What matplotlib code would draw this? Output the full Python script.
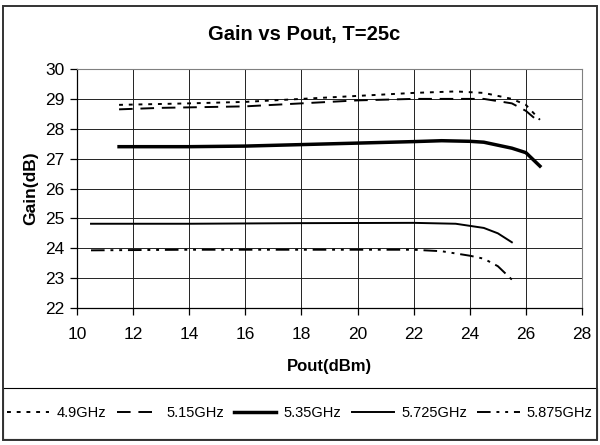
import matplotlib
matplotlib.use("Agg")
from matplotlib import pyplot as plt
from matplotlib.patches import Rectangle

plt.rcParams['font.family'] = ['Liberation Sans', 'DejaVu Sans']

# Ganho x Pout por frequencia
x_49 = [11.5, 14, 16, 18, 20, 22, 23.5, 24.5, 25.5, 26, 26.5]
g_49 = [28.8, 28.85, 28.9, 29.0, 29.1, 29.2, 29.25, 29.2, 29.0, 28.8, 28.3]

x_515 = [11.5, 13, 16, 18, 20, 22, 24.5, 25.5, 26, 26.5]
g_515 = [28.65, 28.7, 28.75, 28.85, 28.95, 29.0, 29.0, 28.85, 28.6, 28.2]

x_535 = [11.5, 14, 16, 18, 20, 22, 23, 24, 24.5, 25.5, 26, 26.5]
g_535 = [27.4, 27.4, 27.42, 27.47, 27.52, 27.57, 27.6, 27.58, 27.55, 27.35, 27.2, 26.75]

x_5725 = [10.5, 14, 18, 22, 23.5, 24.5, 25, 25.5]
g_5725 = [24.82, 24.82, 24.84, 24.85, 24.82, 24.68, 24.5, 24.2]

x_5875 = [10.5, 14, 18, 22, 23, 24, 24.5, 25, 25.5]
g_5875 = [23.93, 23.95, 23.95, 23.95, 23.9, 23.75, 23.65, 23.4, 22.95]

fig = plt.figure(figsize=(6, 4.45), dpi=100)
ax = fig.add_axes([0.1283, 0.3079, 0.8417, 0.537])

ax.plot(x_49, g_49, color='black', lw=1.4, ls=(0, (2, 3)), label='4.9GHz')
ax.plot(x_515, g_515, color='black', lw=1.4, ls=(0, (7, 4)), label='5.15GHz')
ax.plot(x_535, g_535, color='black', lw=2.5, ls='-', label='5.35GHz')
ax.plot(x_5725, g_5725, color='black', lw=1.4, ls='-', label='5.725GHz')
ax.plot(x_5875, g_5875, color='black', lw=1.4, ls=(0, (7, 3, 1.5, 3, 1.5, 3)), label='5.875GHz')

ax.set_xlim(10, 28)
ax.set_ylim(22, 30)
ax.set_xticks(range(10, 29, 2))
ax.set_yticks(range(22, 31, 1))
ax.grid(True, color='#222222', lw=0.7)
for s in ['top', 'right']:
    ax.spines[s].set_color('gray')
    ax.spines[s].set_linewidth(0.8)
ax.spines['left'].set_linewidth(0.9)
ax.spines['bottom'].set_linewidth(0.9)
ax.tick_params(labelsize=12.5, length=5, width=0.9, direction='out')
ax.tick_params(axis='x', pad=9)
ax.tick_params(axis='y', pad=4)

ax.set_xlabel("Pout(dBm)", fontsize=12, fontweight='bold', labelpad=12)
ax.set_ylabel("Gain(dB)", fontsize=12.5, fontweight='bold', labelpad=5)
fig.text(0.507, 0.923, "Gain vs Pout, T=25c", ha='center', va='center',
         fontsize=14.5, fontweight='bold')

leg = fig.legend(loc='center', bbox_to_anchor=(0.005, 0.0135, 0.99, 0.1146),
                 ncol=5, fontsize=10.5, frameon=False,
                 handlelength=2.9, handletextpad=0.5, borderaxespad=0,
                 columnspacing=0.7, borderpad=0)

fig.patches.append(Rectangle((0.005, 0.0135), 0.99, 0.1146, transform=fig.transFigure,
                             fill=False, edgecolor='black', lw=0.8))
fig.patches.append(Rectangle((0.005, 0.0115), 0.99, 0.975, transform=fig.transFigure,
                             fill=False, edgecolor='#333333', lw=1.4))

plt.savefig("out.png")
